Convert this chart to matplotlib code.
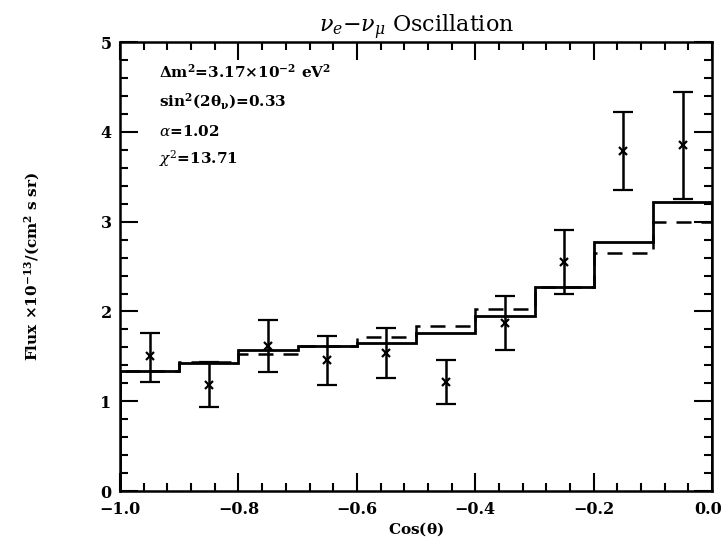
import numpy as np
import matplotlib
matplotlib.use("Agg")
import matplotlib.pyplot as plt
from matplotlib.ticker import MultipleLocator
from matplotlib.transforms import ScaledTranslation

plt.rcParams['font.family'] = ['DejaVu Serif']
plt.rcParams['mathtext.fontset'] = 'dejavuserif'

# Data
bin_edges = [-1.0, -0.9, -0.8, -0.7, -0.6, -0.5, -0.4, -0.3, -0.2, -0.1, 0.0]
cos_theta = [-0.95, -0.85, -0.75, -0.65, -0.55, -0.45, -0.35, -0.25, -0.15, -0.05]
flux = [1.50, 1.18, 1.61, 1.46, 1.54, 1.21, 1.87, 2.55, 3.79, 3.85]
err_up = [0.26, 0.26, 0.29, 0.27, 0.28, 0.25, 0.30, 0.36, 0.43, 0.60]
err_down = [0.29, 0.24, 0.28, 0.28, 0.28, 0.24, 0.30, 0.35, 0.44, 0.60]
solid_fit = [1.34, 1.43, 1.57, 1.61, 1.65, 1.76, 1.95, 2.27, 2.77, 3.22]
dashed_fit = [1.34, 1.44, 1.53, 1.62, 1.72, 1.84, 2.03, 2.27, 2.65, 3.00]
xticks = [-1.0, -0.8, -0.6, -0.4, -0.2, 0.0]
xtick_labels = ['\u22121.0', '\u22120.8', '\u22120.6', '\u22120.4', '\u22120.2', '0.0']
yticks = [0, 1, 2, 3, 4, 5]

fig = plt.figure(figsize=(7.23, 5.41), dpi=100)
ax = fig.add_axes([0.166, 0.0924, 0.819, 0.8296])

ax.stairs(solid_fit, bin_edges, color='black', linewidth=2.0)
ax.stairs(dashed_fit, bin_edges, color='black', linewidth=1.8,
          linestyle=(0, (6, 4)))
ax.errorbar(cos_theta, flux, yerr=[err_down, err_up], fmt='x', color='black',
            markersize=6, markeredgewidth=1.6, elinewidth=1.8, capsize=7,
            capthick=1.8)

ax.set_xlim(-1.0, 0.0)
ax.set_ylim(0, 5)
ax.set_xticks(xticks, xtick_labels, fontweight='bold')
ax.set_yticks(yticks, [str(v) for v in yticks], fontweight='bold')
ax.xaxis.set_minor_locator(MultipleLocator(0.04))
ax.yaxis.set_minor_locator(MultipleLocator(0.2))
ax.tick_params(which='both', direction='in', top=True, right=True, width=1.5)
ax.tick_params(which='major', length=13, labelsize=11.5)
ax.tick_params(axis='x', which='major', pad=7)
ax.tick_params(axis='y', which='major', pad=6)
ax.tick_params(which='minor', length=6)
for s in ax.spines.values():
    s.set_linewidth(1.8)

# nudge the last x label so it stays inside the figure
last = ax.get_xticklabels()[-1]
last.set_transform(last.get_transform() + ScaledTranslation(-3 / 72, 0, fig.dpi_scale_trans))

ax.set_xlabel(r'Cos($\mathbf{\theta}$)', fontsize=11, fontweight='bold', labelpad=2)
ax.set_ylabel(r'Flux $\mathbf{\times10^{-13}/(cm^2\ s\ sr)}$', fontsize=11,
              fontweight='bold', labelpad=42)
ax.set_title(r'$\nu_e$$-$$\nu_\mu$ Oscillation', fontsize=16, pad=6)

ax.text(-0.935, 4.67, r'$\mathbf{\Delta m^2}$=3.17$\mathbf{\times10^{-2}}$ eV$\mathbf{^2}$',
        fontsize=11, fontweight='bold', va='center')
ax.text(-0.935, 4.34, r'sin$\mathbf{^2}$(2$\mathbf{\theta_\nu}$)=0.33',
        fontsize=11, fontweight='bold', va='center')
ax.text(-0.935, 4.01, r'$\alpha$=1.02', fontsize=11, fontweight='bold', va='center')
ax.text(-0.935, 3.70, r'$\chi^2$=13.71', fontsize=11, fontweight='bold', va='center')

fig.savefig('out.png', dpi=100)
